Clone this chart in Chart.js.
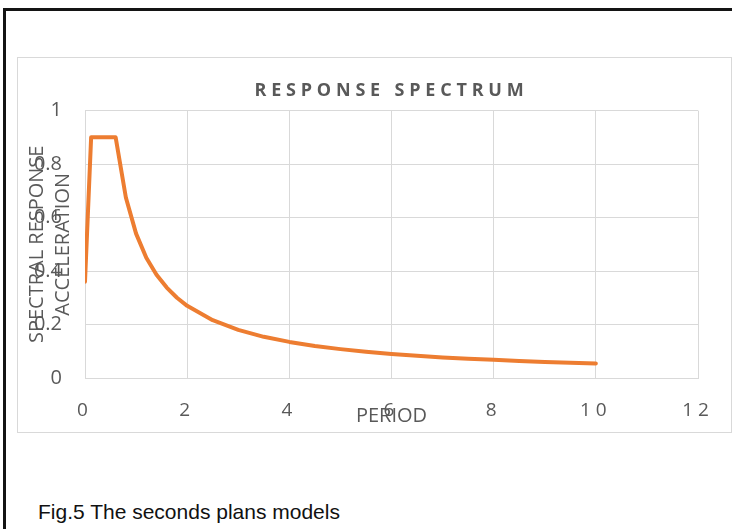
<!DOCTYPE html>
<html>
<head>
<meta charset="utf-8">
<script src="https://cdn.jsdelivr.net/npm/chart.js@4/dist/chart.umd.min.js"></script>
<style>
  html, body { margin: 0; padding: 0; background: #fff; }
  body { position: relative; width: 732px; height: 529px; overflow: hidden; }
  .sheet {
    position: absolute; left: 3px; top: 8px; width: 760px; height: 560px;
    border-left: 3px solid #141414; border-top: 3px solid #141414;
  }
  .frame {
    position: absolute; left: 17px; top: 57px; width: 713px; height: 374px;
    border: 1px solid #d9d9d9; background: #fff;
  }
  .frame canvas { display: block; }
  .caption {
    position: absolute; left: 38px; top: 500px;
    font-family: "Liberation Sans", Arial, sans-serif; font-size: 21px; line-height: 24px;
    color: #111; white-space: nowrap;
  }
</style>
</head>
<body>
<div class="sheet"></div>
<div class="frame"><canvas id="chart" width="713" height="374"></canvas></div>
<div class="caption">Fig.5 The seconds plans models</div>
<script>
// Design response spectrum: period (s) vs spectral response acceleration (g)
const periods = [0, 0.12, 0.6, 0.8, 1.0, 1.2, 1.4, 1.6, 1.8, 2.0, 2.5, 3.0, 3.5, 4.0, 4.5,
                 5.0, 5.5, 6.0, 6.5, 7.0, 7.5, 8.0, 8.5, 9.0, 9.5, 10.0];
const accelerations = [0.36, 0.9, 0.9, 0.675, 0.54, 0.45, 0.386, 0.338, 0.3, 0.27, 0.216, 0.18,
                       0.154, 0.135, 0.12, 0.108, 0.098, 0.09, 0.083, 0.077, 0.072, 0.068,
                       0.064, 0.06, 0.057, 0.054];
const chartTitle = 'RESPONSE SPECTRUM';
const xAxisTitle = 'PERIOD';
const yAxisTitle = ['SPECTRAL RESPONSE', 'ACCELERATION'];
const xTickRange = { min: 0, max: 12, step: 2 };
const yTickRange = { min: 0, max: 1, step: 0.2 };

const points = periods.map((t, i) => ({ x: t, y: accelerations[i] }));

const TEXT = '#595959';
const GRID = '#d9d9d9';
const FAMILY = '"Open Sans", "Noto Sans", sans-serif';

// Adds letter spacing to the chart title and the x tick labels
const spacedText = {
  id: 'spacedText',
  beforeDraw(chart) {
    const wrap = (obj, key, spacing) => {
      if (!obj || obj[key].$spaced) return;
      const orig = obj[key];
      const fn = function (...args) {
        const ctx = chart.ctx;
        ctx.save();
        ctx.letterSpacing = spacing;
        orig.apply(this, args);
        ctx.restore();
      };
      fn.$spaced = true;
      obj[key] = fn;
    };
    wrap(chart.titleBlock, 'draw', '4.8px');
    wrap(chart.scales.x, 'drawLabels', '5px');
  }
};

new Chart(document.getElementById('chart'), {
  type: 'line',
  data: {
    datasets: [{
      data: points,
      borderColor: '#ed7d31',
      borderWidth: 4,
      borderCapStyle: 'round',
      borderJoinStyle: 'round',
      pointRadius: 0,
      tension: 0,
      fill: false
    }]
  },
  options: {
    responsive: false,
    devicePixelRatio: 1,
    animation: false,
    events: [],
    layout: { padding: { left: 0, right: 33, top: 0, bottom: 0 } },
    plugins: {
      legend: { display: false },
      tooltip: { enabled: false },
      title: {
        display: true,
        text: chartTitle,
        fullSize: false,
        color: TEXT,
        font: { family: FAMILY, size: 18, weight: 'bold', lineHeight: 1.2 },
        padding: { top: 22, bottom: 9 }
      }
    },
    scales: {
      x: {
        type: 'linear',
        min: xTickRange.min,
        max: xTickRange.max,
        ticks: { stepSize: xTickRange.step, color: TEXT, padding: 21,
                 font: { family: FAMILY, size: 19, lineHeight: 1.2 } },
        grid: { color: GRID, lineWidth: 1, drawTicks: false },
        border: { color: GRID, width: 1 },
        title: {
          display: true, text: xAxisTitle, color: TEXT,
          font: { family: FAMILY, size: 20, lineHeight: 1.2 },
          padding: { top: 0, bottom: 4 }
        },
        afterFit(scale) { scale.height = 54; }
      },
      y: {
        min: yTickRange.min,
        max: yTickRange.max,
        ticks: { stepSize: yTickRange.step, color: TEXT, padding: 23,
                 font: { family: FAMILY, size: 20, lineHeight: 1.2 },
                 callback: (v) => String(Number(v.toFixed(2))) },
        grid: { color: GRID, lineWidth: 1, drawTicks: false },
        border: { color: GRID, width: 1 },
        title: {
          display: true, text: yAxisTitle, color: TEXT,
          font: { family: FAMILY, size: 20, lineHeight: 1.3 },
          padding: { top: 6, bottom: 0 }
        },
        afterFit(scale) { scale.width = 67; }
      }
    }
  },
  plugins: [spacedText]
});
</script>
</body>
</html>
